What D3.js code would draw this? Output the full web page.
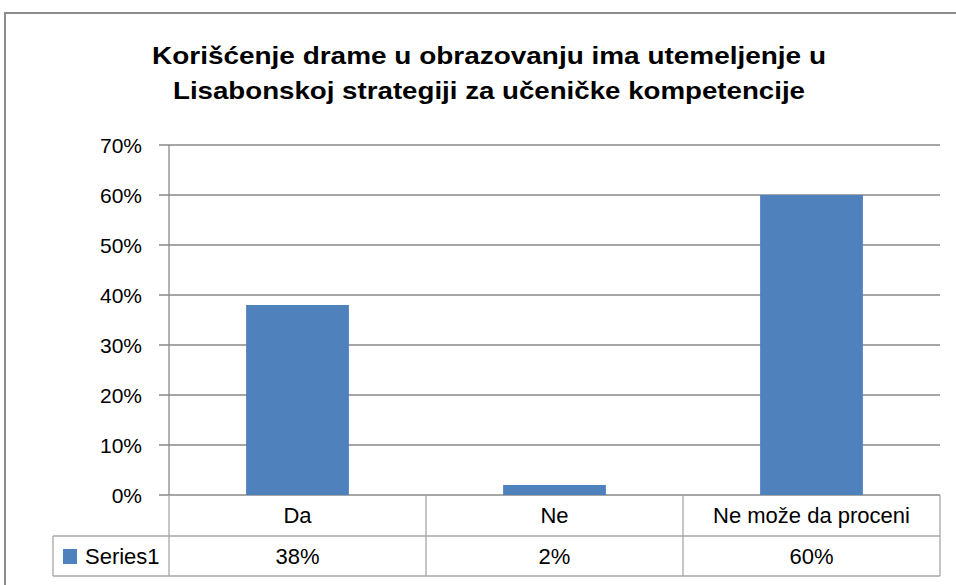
<!DOCTYPE html>
<html>
<head>
<meta charset="utf-8">
<script src="https://cdn.jsdelivr.net/npm/d3@7"></script>
<style>
html,body{margin:0;padding:0;background:#fff;}
svg{display:block;font-family:"Liberation Sans",Arial,sans-serif;}
</style>
</head>
<body>
<svg id="chart" width="956" height="585"></svg>
<script>
const categories = ["Da", "Ne", "Ne može da proceni"];
const values = [0.38, 0.02, 0.60];
const valueLabels = ["38%", "2%", "60%"];
const seriesName = "Series1";
const yTicks = [0, 0.1, 0.2, 0.3, 0.4, 0.5, 0.6, 0.7];
const titleLines = ["Korišćenje drame u obrazovanju ima utemeljenje u", "Lisabonskoj strategiji za učeničke kompetencije"];

(function () {
const svg = d3.select("#chart");
const gridColor = "#898989", tableColor = "#a6a6a6", barColor = "#4f81bd";

// outer frame
svg.append("rect").attr("x", 5).attr("y", 13).attr("width", 960).attr("height", 600)
  .attr("fill", "#fff").attr("stroke", "#8c8c8c").attr("stroke-width", 2);

// title
const titleWidths = [674, 632];
svg.selectAll("text.title").data(titleLines).join("text")
  .attr("class", "title")
  .attr("x", 489).attr("y", (d, i) => 64 + i * 35)
  .attr("text-anchor", "middle")
  .attr("font-size", 24).attr("font-weight", "bold").attr("fill", "#000")
  .attr("textLength", (d, i) => titleWidths[i]).attr("lengthAdjust", "spacingAndGlyphs")
  .text(d => d);

const pl = 169, pr = 940, pt = 145, pb = 495;
const x = d3.scaleBand().domain(categories).range([pl, pr]).paddingInner(0).paddingOuter(0);
const y = d3.scaleLinear().domain([0, 0.7]).range([pb, pt]);

// gridlines
svg.append("g").selectAll("line").data(yTicks).join("line")
  .attr("x1", pl - 10).attr("x2", pr)
  .attr("y1", d => y(d)).attr("y2", d => y(d))
  .attr("stroke", gridColor).attr("stroke-width", 1.3);

// y axis labels
const yAxis = d3.axisLeft(y).tickValues(yTicks).tickFormat(d3.format(".0%")).tickSize(0).tickPadding(27);
const yg = svg.append("g").attr("transform", `translate(${pl},0)`).call(yAxis);
yg.select(".domain").remove();
yg.selectAll("text").attr("font-size", 21).attr("fill", "#000")
  .attr("font-family", "'Liberation Sans',Arial,sans-serif").attr("dy", "0.35em");

// bars
const bw = x.bandwidth() * 0.4;
svg.append("g").selectAll("rect").data(values).join("rect")
  .attr("x", (d, i) => x(categories[i]) + (x.bandwidth() - bw) / 2)
  .attr("width", bw)
  .attr("y", d => y(d))
  .attr("height", d => y(0) - y(d))
  .attr("fill", barColor);

// vertical axis line
svg.append("line").attr("x1", pl).attr("x2", pl).attr("y1", pt).attr("y2", pb)
  .attr("stroke", gridColor).attr("stroke-width", 1.3);

// data table
const row1Bottom = 536, row2Bottom = 576, tableLeft = 53;
const tg = svg.append("g").attr("stroke", tableColor).attr("stroke-width", 1.3);
tg.append("line").attr("x1", tableLeft).attr("x2", pr).attr("y1", row1Bottom).attr("y2", row1Bottom);
tg.append("line").attr("x1", tableLeft).attr("x2", pr).attr("y1", row2Bottom).attr("y2", row2Bottom);
tg.append("line").attr("x1", tableLeft).attr("x2", tableLeft).attr("y1", row1Bottom).attr("y2", row2Bottom);
const colEdges = categories.map(c => x(c)).concat([pr]);
tg.selectAll("line.col").data(colEdges).join("line").attr("class", "col")
  .attr("x1", d => d).attr("x2", d => d).attr("y1", pb).attr("y2", row2Bottom);

// category labels
svg.append("g").selectAll("text").data(categories).join("text")
  .attr("x", d => x(d) + x.bandwidth() / 2).attr("y", 523)
  .attr("text-anchor", "middle").attr("font-size", 22).attr("fill", "#000")
  .text(d => d);
// value labels
svg.append("g").selectAll("text").data(valueLabels).join("text")
  .attr("x", (d, i) => x(categories[i]) + x.bandwidth() / 2).attr("y", 564)
  .attr("text-anchor", "middle").attr("font-size", 22).attr("fill", "#000")
  .text(d => d);
// legend key
svg.append("rect").attr("x", 63).attr("y", 549).attr("width", 14).attr("height", 15).attr("fill", barColor);
svg.append("text").attr("x", 85).attr("y", 564).attr("font-size", 22).attr("fill", "#000").text(seriesName);
})();
</script>
</body>
</html>
